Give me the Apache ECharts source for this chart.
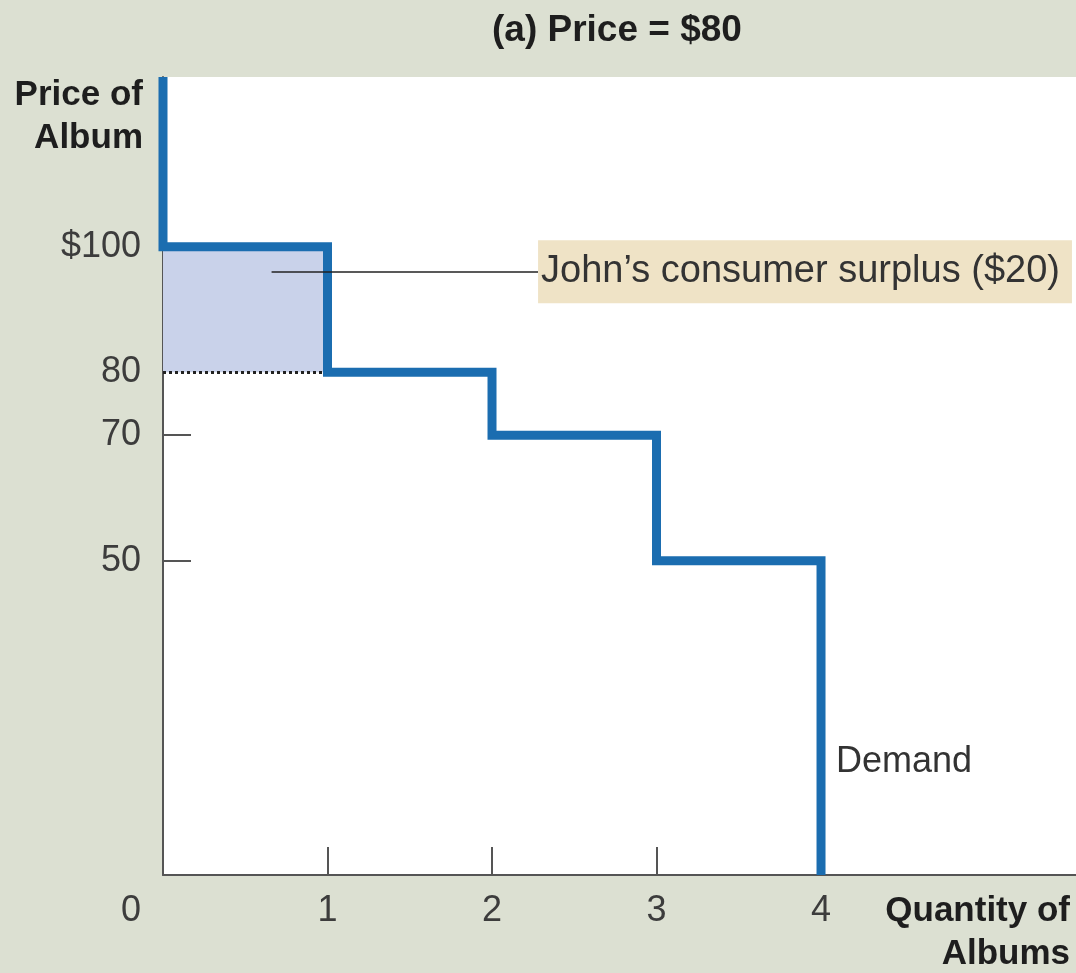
<!DOCTYPE html>
<html>
<head>
<meta charset="utf-8">
<script src="https://cdn.jsdelivr.net/npm/echarts@6/dist/echarts.min.js"></script>
<style>
html,body{margin:0;padding:0;background:#dce0d2;}
#chart{width:1076px;height:973px;}
</style>
</head>
<body>
<div id="chart"></div>
<script>
// ---- data ----
const buyers = ['John', 'Paul', 'George', 'Ringo'];
const willingnessToPay = [100, 80, 70, 50];      // one step per album
const marketPrice = 80;
const priceTicks = [50, 70, 80, 100];
const quantityTicks = [0, 1, 2, 3, 4];
const yAxisName = 'Price of\nAlbum';
const xAxisName = 'Quantity of\nAlbums';

// ---- derived ----
const Y_MAX = 127;
const X_MAX = 5.55;
const demand = [[0, Y_MAX]];
willingnessToPay.forEach((p, i) => { demand.push([i, p]); demand.push([i + 1, p]); });
demand.push([willingnessToPay.length, 0]);
const surplus = willingnessToPay[0] - marketPrice;
const surplusLabel = buyers[0] + '\u2019s consumer surplus ($' + surplus + ')';
const titleText = '(a) Price = $' + marketPrice;

const FONT = 'Liberation Sans';
const txt = '#3c3c3c';
const dark = '#1e1e1e';
const axisCol = '#555';

const chart = echarts.init(document.getElementById('chart'), null, {renderer: 'canvas'});
chart.setOption({
  animation: false,
  backgroundColor: '#dce0d2',
  title: {
    text: titleText,
    left: 487, top: 7,
    textStyle: {fontFamily: FONT, fontSize: 37, fontWeight: 'bold', color: dark}
  },
  grid: {
    left: 163, right: 0, top: 77, bottom: 98,
    show: true, backgroundColor: '#ffffff', borderWidth: 0,
    containLabel: false, outerBoundsMode: 'none'
  },
  xAxis: {
    type: 'value', min: 0, max: X_MAX,
    name: xAxisName, nameLocation: 'end', nameGap: -6,
    nameTextStyle: {fontFamily: FONT, fontSize: 35, fontWeight: 'bold', color: dark,
      align: 'right', verticalAlign: 'top', lineHeight: 43, padding: [15, 0, 0, 0]},
    axisLine: {show: true, onZero: false, lineStyle: {color: axisCol, width: 2}},
    axisTick: {show: true, inside: true, length: 28, customValues: quantityTicks.filter(v => v > 0),
      lineStyle: {color: axisCol, width: 2}},
    axisLabel: {
      customValues: quantityTicks, margin: 18,
      fontFamily: FONT, fontSize: 36, color: txt,
      formatter: v => v === 0 ? '{o|0}' : String(v),
      rich: {o: {fontFamily: FONT, fontSize: 36, color: txt, padding: [0, 64, 0, 0]}}
    },
    splitLine: {show: false}
  },
  yAxis: {
    type: 'value', min: 0, max: Y_MAX,
    name: yAxisName, nameLocation: 'end', nameGap: 3,
    nameTextStyle: {fontFamily: FONT, fontSize: 35, fontWeight: 'bold', color: dark,
      align: 'right', verticalAlign: 'top', lineHeight: 43, padding: [0, 20, 0, 0]},
    axisLine: {show: true, onZero: false, lineStyle: {color: axisCol, width: 2}},
    axisTick: {show: true, inside: true, length: 28, customValues: [50, 70],
      lineStyle: {color: axisCol, width: 2}},
    axisLabel: {
      customValues: priceTicks, margin: 22,
      fontFamily: FONT, fontSize: 36, color: txt,
      formatter: v => v === Math.max.apply(null, priceTicks) ? '$' + v : String(v)
    },
    splitLine: {show: false}
  },
  series: [{
    type: 'line',
    name: 'Demand',
    data: demand,
    symbol: 'none',
    clip: true,
    z: 3,
    lineStyle: {color: '#1b6db0', width: 9, join: 'miter', cap: 'butt'},
    markArea: {
      silent: true,
      z: 1,
      itemStyle: {color: '#c9d2ea'},
      data: [[{coord: [0, willingnessToPay[0]]}, {coord: [1, marketPrice]}]]
    },
    markLine: {
      silent: true,
      symbol: ['none', 'none'],
      z: 10,
      data: [
        [{coord: [0, marketPrice], lineStyle: {type: 'dotted', color: '#222', width: 3}, label: {show: false}},
         {coord: [0.97, marketPrice]}],
        [{coord: [0.66, 96], lineStyle: {type: 'solid', color: '#222', width: 1.5},
          label: {show: true, position: 'end', distance: 0, formatter: surplusLabel,
            fontFamily: FONT, fontSize: 38, lineHeight: 41, color: '#333',
            backgroundColor: '#efe3c6', padding: [11, 12, 11, 3]}},
         {coord: [2.28, 96]}]
      ]
    },
    markPoint: {
      silent: true,
      symbol: 'circle', symbolSize: 0,
      data: [{coord: [willingnessToPay.length, 18], value: 'Demand'}],
      label: {show: true, position: 'right', distance: 15, formatter: 'Demand',
        fontFamily: FONT, fontSize: 36, color: '#333'}
    }
  }]
});
</script>
</body>
</html>
